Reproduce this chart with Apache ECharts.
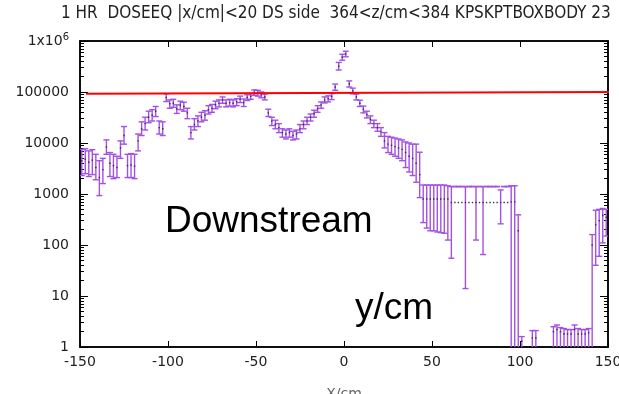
<!DOCTYPE html>
<html>
<head>
<meta charset="utf-8">
<script src="https://cdn.jsdelivr.net/npm/echarts@6/dist/echarts.min.js"></script>
<style>
  html, body { margin: 0; padding: 0; background: #fff; }
  #chart { width: 619px; height: 394px; }
</style>
</head>
<body>
<div id="chart"></div>
<script>
// ---- data ----
const titleText = '1 HR  DOSEEQ |x/cm|<20 DS side  364<z/cm<384 KPSKPTBOXBODY 23';
const xTickLabels = [-150, -100, -50, 0, 50, 100, 150];
const yTickLabels = [1, 10, 100, 1000, 10000, 100000, 1000000];

const xBins = [
  -149, -147, -145, -143, -141, -139, -137, -135, -133, -131,
  -129, -127, -125, -123, -121, -119, -117, -115, -113, -111,
  -109, -107, -105, -103, -101, -99, -97, -95, -93, -91,
  -89, -87, -85, -83, -81, -79, -77, -75, -73, -71,
  -69, -67, -65, -63, -61, -59, -57, -55, -53, -51,
  -49, -47, -45, -43, -41, -39, -37, -35, -33, -31,
  -29, -27, -25, -23, -21, -19, -17, -15, -13, -11,
  -9, -7, -5, -3, -1, 1, 3, 5, 7, 9,
  11, 13, 15, 17, 19, 21, 23, 25, 27, 29,
  31, 33, 35, 37, 39, 41, 43, 45, 47, 49,
  51, 53, 55, 57, 59, 61, 63, 65, 67, 69,
  71, 73, 75, 77, 79, 81, 83, 85, 87, 89,
  91, 93, 95, 97, 99, 101, 107, 109, 119, 121,
  123, 125, 127, 129, 131, 133, 135, 137, 139, 141,
  143, 145, 147, 149
];
const doseValue = [
  4500, 4800, 4200, 4600, 3300, 2100, 3000, 8300, 4000, 3600,
  3300, 8000, 14000, 3600, 3700, 3500, 11000, 19000, 24000, 32000,
  35000, 42000, 20000, 19000, 78000, 59000, 60000, 47000, 55000, 52000,
  39000, 16000, 23000, 27000, 32000, 35000, 45000, 48000, 56000, 60000,
  70000, 60000, 62000, 60000, 64000, 72000, 62000, 78000, 82000, 98000,
  95000, 88000, 80000, 39000, 27000, 23000, 20000, 16000, 15000, 16000,
  14000, 15000, 19000, 23000, 27000, 32000, 38000, 47000, 56000, 70000,
  74000, 82000, 125000, 320000, 480000, 560000, 145000, 105000, 80000, 60000,
  46000, 36000, 29000, 24000, 20000, 16500, 11000, 9500, 9000, 8500,
  8000, 7500, 6500, 5500, 5000, 4000, 2400, 800, 800, 800,
  800, 800, 800, 800, 800, 680, 680, 680, 680, 680,
  680, 680, 680, 680, 680, 680, 680, 680, 680, 680,
  680, 680, 700, 700, 190, 1.3, 1.5, 1.5, 2.0, 2.2,
  2.0, 1.8, 1.8, 1.8, 2.2, 1.8, 1.8, 1.8, 1.9, 100,
  250, 300, 380, 350
];
const doseLow = [
  2300, 2500, 2200, 2400, 1900, 930, 1600, 6000, 2200, 2000,
  2100, 5000, 9500, 2100, 2100, 2000, 7000, 14000, 18000, 25000,
  27000, 33000, 15000, 14000, 65000, 48000, 50000, 38000, 45000, 42000,
  30000, 12000, 18000, 21000, 26000, 28000, 37000, 40000, 47000, 51000,
  60000, 51000, 53000, 51000, 54000, 62000, 52000, 68000, 72000, 86000,
  83000, 77000, 70000, 33000, 22000, 19000, 16000, 13000, 12000, 13000,
  11500, 12000, 16000, 19000, 23000, 27000, 32000, 40000, 48000, 61000,
  64000, 71000, 108000, 270000, 420000, 490000, 125000, 92000, 70000, 52000,
  39000, 31000, 24000, 20000, 17000, 13500, 8000, 6500, 6000, 5500,
  5000, 4500, 3300, 2700, 2300, 1700, 850, 275, 215, 190,
  190, 180, 175, 170, 125, 55, 1400, 1400, 1400, 14,
  1400, 1400, 125, 1400, 65, 1400, 1400, 1400, 1400, 260,
  1400, 1400, 0, 0, 0, 0, 0, 0, 0, 0,
  0, 0, 0, 0, 0, 0, 0, 0, 0, 0,
  40, 60, 110, 150
];
const doseHigh = [
  7500, 7700, 7000, 7400, 6000, 4500, 5000, 11500, 6500, 6000,
  5500, 11000, 21000, 6000, 6200, 6000, 15000, 26000, 32000, 42000,
  45000, 52000, 27000, 26000, 92000, 70000, 72000, 56000, 66000, 63000,
  48000, 21000, 30000, 34000, 40000, 43000, 54000, 57000, 66000, 70000,
  80000, 70000, 72000, 70000, 74000, 83000, 73000, 88000, 93000, 110000,
  108000, 100000, 91000, 46000, 32000, 28000, 24000, 19000, 18000, 19000,
  17000, 18000, 23000, 27000, 32000, 37000, 44000, 54000, 64000, 80000,
  84000, 93000, 143000, 380000, 550000, 630000, 165000, 119000, 91000, 69000,
  53000, 42000, 34000, 28000, 24000, 20000, 16000, 13500, 13000, 12500,
  12000, 11500, 10500, 10000, 9500, 9500, 6600, 1500, 1500, 1500,
  1500, 1500, 1500, 1500, 1450, 1400, 1400, 1400, 1400, 1400,
  1400, 1400, 1400, 1400, 1400, 1400, 1400, 1400, 1400, 1200,
  1400, 1400, 1450, 1450, 390, 1.6, 2.1, 2.1, 2.5, 2.7,
  2.4, 2.3, 2.2, 2.2, 2.7, 2.3, 2.2, 2.2, 2.3, 160,
  480, 500, 520, 500
];
// red reference line (end points)
const refLineX = [-146.6, 156];
const refLineY = [92000, 100000];

// ---- chart ----
const chart = echarts.init(document.getElementById('chart'), null, { renderer: 'canvas' });

const points = xBins.map((x, i) => [x, doseValue[i], doseLow[i], doseHigh[i]]);
const FONT = '"DejaVu Sans", sans-serif';
const BAR = '#a350e4';

function renderErr(params, api) {
  const x = api.value(0), v = api.value(1), lo = api.value(2), hi = api.value(3);
  const pHi = api.coord([x, hi]);
  const hasLo = lo >= 1;
  const pLo = api.coord([x, hasLo ? lo : 1]);
  const pV = api.coord([x, v]);
  const hw = 3;
  const st = { stroke: BAR, lineWidth: 1.4 };
  const children = [
    { type: 'line', shape: { x1: pHi[0], y1: pHi[1], x2: pLo[0], y2: pLo[1] }, style: st },
    { type: 'line', shape: { x1: pHi[0] - hw, y1: pHi[1], x2: pHi[0] + hw, y2: pHi[1] }, style: st },
    { type: 'rect', shape: { x: pV[0] - 0.7, y: pV[1] - 0.7, width: 1.4, height: 1.4 }, style: { fill: '#3c2a52' } }
  ];
  if (hasLo) {
    children.push({ type: 'line', shape: { x1: pLo[0] - hw, y1: pLo[1], x2: pLo[0] + hw, y2: pLo[1] }, style: st });
  }
  return { type: 'group', children: children };
}

const yLabelFmt = function (val) {
  if (Math.abs(val - 1000000) < 1) return '{a|1x10}{s|6}';
  return String(Math.round(val));
};

chart.setOption({
  animation: false,
  backgroundColor: '#ffffff',
  grid: { left: 80, right: 11, top: 41, bottom: 47, show: true, borderColor: '#000', borderWidth: 1.5, backgroundColor: 'transparent', containLabel: false, outerBoundsMode: 'none' },
  xAxis: [
    {
      type: 'value', min: -150, max: 150, interval: 50, position: 'bottom',
      axisLine: { show: true, onZero: false, lineStyle: { color: '#000', width: 1.5 } },
      axisTick: { show: true, inside: true, length: 6, lineStyle: { color: '#000' } },
      axisLabel: { color: '#222', fontSize: 14, fontFamily: FONT, margin: 8,
        formatter: v => xTickLabels.indexOf(v) >= 0 ? String(v) : '' },
      splitLine: { show: false },
      name: 'X/cm', nameLocation: 'middle', nameGap: 40,
      nameTextStyle: { color: '#666', fontSize: 14, fontFamily: FONT }
    },
    {
      type: 'value', min: -150, max: 150, interval: 50, position: 'top',
      axisLine: { show: true, onZero: false, lineStyle: { color: '#000', width: 1.5 } },
      axisTick: { show: true, inside: true, length: 6, lineStyle: { color: '#000' } },
      axisLabel: { show: false }, splitLine: { show: false }
    }
  ],
  yAxis: [
    {
      type: 'log', logBase: 10, min: 1, max: 1000000, splitNumber: 6, position: 'left',
      axisLine: { show: true, onZero: false, lineStyle: { color: '#000', width: 1.5 } },
      axisTick: { show: true, inside: true, length: 8, lineStyle: { color: '#000' } },
      minorTick: { show: true, splitNumber: 9, length: 4, lineStyle: { color: '#000' } },
      axisLabel: {
        color: '#222', fontSize: 14, fontFamily: FONT, margin: 11,
        formatter: yLabelFmt,
        rich: {
          a: { fontSize: 14, fontFamily: FONT, color: '#222' },
          s: { fontSize: 10, fontFamily: FONT, color: '#222', verticalAlign: 'top', padding: [0, 0, 8, 0] }
        }
      },
      splitLine: { show: false }
    },
    {
      type: 'log', logBase: 10, min: 1, max: 1000000, splitNumber: 6, position: 'right',
      axisLine: { show: true, onZero: false, lineStyle: { color: '#000', width: 1.5 } },
      axisTick: { show: true, inside: true, length: 8, lineStyle: { color: '#000' } },
      minorTick: { show: true, splitNumber: 9, length: 4, lineStyle: { color: '#000' } },
      axisLabel: { show: false }, splitLine: { show: false }
    }
  ],
  series: [
    {
      type: 'custom', name: 'dose', xAxisIndex: 0, yAxisIndex: 0,
      renderItem: renderErr, data: points, encode: { x: 0, y: 1 }, clip: true, z: 3
    },
    {
      type: 'line', name: 'ref', xAxisIndex: 0, yAxisIndex: 0,
      data: refLineX.map((x, i) => [x, refLineY[i]]),
      symbol: 'none', clip: false, lineStyle: { color: '#ff0000', width: 2 }, z: 4
    }
  ],
  graphic: [
    { type: 'text', x: 61, y: 14, style: { text: titleText, fill: '#222', font: '17px "DejaVu Sans Condensed", "DejaVu Sans", sans-serif', textVerticalAlign: 'middle' } },
    { type: 'text', x: 165, y: 222, style: { text: 'Downstream', fill: '#000', font: '37px "Liberation Sans", Arial, sans-serif', textVerticalAlign: 'middle' } },
    { type: 'text', x: 355, y: 309, style: { text: 'y/cm', fill: '#000', font: '37px "Liberation Sans", Arial, sans-serif', textVerticalAlign: 'middle' } }
  ]
});
</script>
</body>
</html>
